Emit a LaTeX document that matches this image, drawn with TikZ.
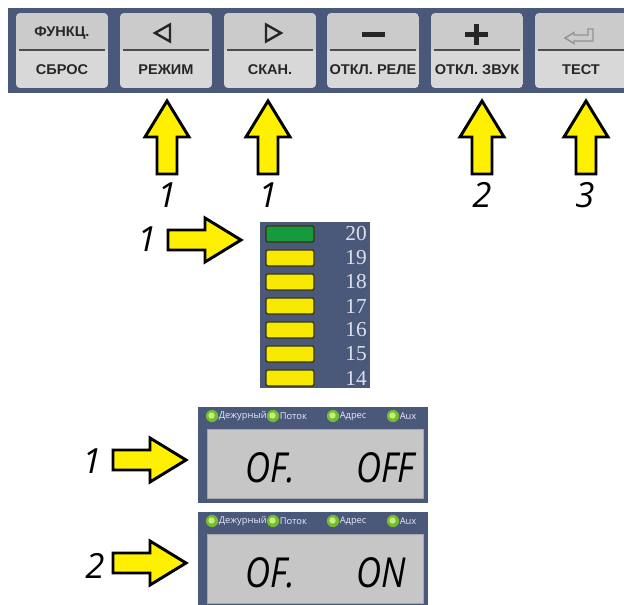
\documentclass[tikz,border=0pt]{standalone}
\usepackage{fontspec}
\setmainfont{Open Sans}
\newfontfamily\keyfont{Liberation Sans}
\newfontfamily\barfont{Liberation Serif}
\usepackage{tikz}

\definecolor{panel}{HTML}{4A5879}
\definecolor{keygray}{HTML}{D8D8D8}
\definecolor{keytop}{HTML}{CBCBCB}
\definecolor{ledyellow}{HTML}{F7EA00}
\definecolor{ledgreen}{HTML}{159B3D}
\definecolor{lededge}{HTML}{3A3608}
\definecolor{lcdgray}{HTML}{C6C6C6}
\definecolor{arrowyellow}{HTML}{FFF000}
\definecolor{barnumcol}{HTML}{DDE0EA}
\definecolor{lampgreen}{HTML}{74BC30}
\definecolor{lamplight}{HTML}{C4F07A}

\tikzset{
    keylabel/.style={font=\keyfont\bfseries\fontsize{10.6}{12}\selectfont, text=black!85, inner sep=0, xscale=1.03},
    keysymbol/.style={draw=black!85, line width=1.8pt, line join=miter},
    bigarrow/.style={draw=black, line width=2.2pt, fill=arrowyellow, line join=miter},
    fatarrow/.pic={
        \draw[bigarrow] (0,-10) -- (37,-10) -- (37,-22) -- (73,0) -- (37,22) -- (37,10) -- (0,10) -- cycle;
    },
    numlabel/.style={font=\itshape\fontsize{26}{30}\selectfont, anchor=base, inner sep=0},
    ledbox/.style={draw=lededge, line width=1pt, rounded corners=1pt},
    barnum/.style={font=\barfont\fontsize{16}{18}\selectfont, text=barnumcol, inner sep=0},
    lamplabel/.style={font=\fontsize{7}{8}\selectfont, text=white!92!blue, anchor=west, inner sep=0},
    lcdtext/.style={font=\itshape\fontsize{31}{36}\selectfont, anchor=base west, inner sep=0, xscale=0.84}
}

\begin{document}
\begin{tikzpicture}[x=0.75pt, y=-0.75pt]
    \useasboundingbox (0,0) rectangle (624,605);
    \clip (0,0) rectangle (624,605);

    % Key panel
    \fill[panel] (8,8) rectangle (640,93);
    \foreach \bx/\txt [count=\i] in {16/СБРОС, 120/РЕЖИМ, 224/СКАН., 327/ОТКЛ. РЕЛЕ, 431/ОТКЛ. ЗВУК, 535/ТЕСТ} {
        \begin{scope}
            \clip[rounded corners=3pt] (\bx,13) rectangle ++(92,75);
            \fill[keytop] (\bx,13) rectangle ++(92,37);
            \fill[keygray] (\bx,50) rectangle ++(92,38);
        \end{scope}
        \draw[line width=1.4pt, black!70] (\bx+3,50) -- (\bx+89,50);
        \node[keylabel] (key\i) at (\bx+46,70) {\txt};
    }

    % Key symbols
    \node[keylabel] (keyfn) at (62,33) {ФУНКЦ.};
    \draw[keysymbol] (155,33) -- (170,24.5) -- (170,41.5) -- cycle;
    \draw[keysymbol] (266,24.5) -- (281,33) -- (266,41.5) -- cycle;
    \fill[black!85] (362,32) rectangle (385,37);
    \fill[black!85] (465,32.5) rectangle (488,37.5);
    \fill[black!85] (474,24) rectangle (479,45);
    \draw[gray!85, line width=1.1pt] (593,29) -- (593,41) -- (574,41) -- (574,43.5) -- (565,38)
        -- (574,32.5) -- (574,35) -- (588,35) -- (588,29) -- cycle;

    % Arrows to the keys
    \pic[rotate=90] at (167,174) {fatarrow};
    \pic[rotate=90] at (268,174) {fatarrow};
    \pic[rotate=90] at (482,174) {fatarrow};
    \pic[rotate=90] at (586,174) {fatarrow};
    \node[numlabel] (nkey2) at (167,208) {1};
    \node[numlabel] (nkey3) at (268,208) {1};
    \node[numlabel] (nkey5) at (482,208) {2};
    \node[numlabel] (nkey6) at (585,208) {3};

    % Level bar
    \fill[panel] (260,222) rectangle (370,388);
    \foreach \n/\col [count=\i from 0] in {20/ledgreen, 19/ledyellow, 18/ledyellow, 17/ledyellow, 16/ledyellow, 15/ledyellow, 14/ledyellow} {
        \draw[ledbox, fill=\col] (266,234+24*\i-8) rectangle (314,234+24*\i+8);
        \node[barnum] (bar\n) at (356,234+24*\i) {\n};
    }
    \pic at (168,240) {fatarrow};
    \node[numlabel] (nbar) at (147,252) {1};

    % Displays
    \foreach \dy/\val [count=\i] in {407/OFF, 512/ON} {
        \fill[panel] (198,\dy) rectangle (428,\dy+96);
        \foreach \lx/\lamp in {212/Дежурный, 273/Поток, 333/Адрес, 393/Aux} {
            \fill[lampgreen] (\lx,\dy+9) circle[radius=4.6pt];
            \fill[lamplight] (\lx-0.5,\dy+8.5) circle[radius=2.4pt];
            \node[lamplabel] (lamp\i\lx) at (\lx+6.5,\dy+9) {\lamp};
        }
        \fill[lcdgray, draw=gray!70] (207,\dy+22) rectangle (423,\dy+91);
        \node[lcdtext] (mode\i) at (245,\dy+75) {OF.};
        \node[lcdtext] (state\i) at (356,\dy+75) {\val};
    }
    \pic at (113,460) {fatarrow};
    \pic at (113,563) {fatarrow};
    \node[numlabel] (ndisp1) at (92,473) {1};
    \node[numlabel] (ndisp2) at (95,578) {2};
\end{tikzpicture}
\end{document}
